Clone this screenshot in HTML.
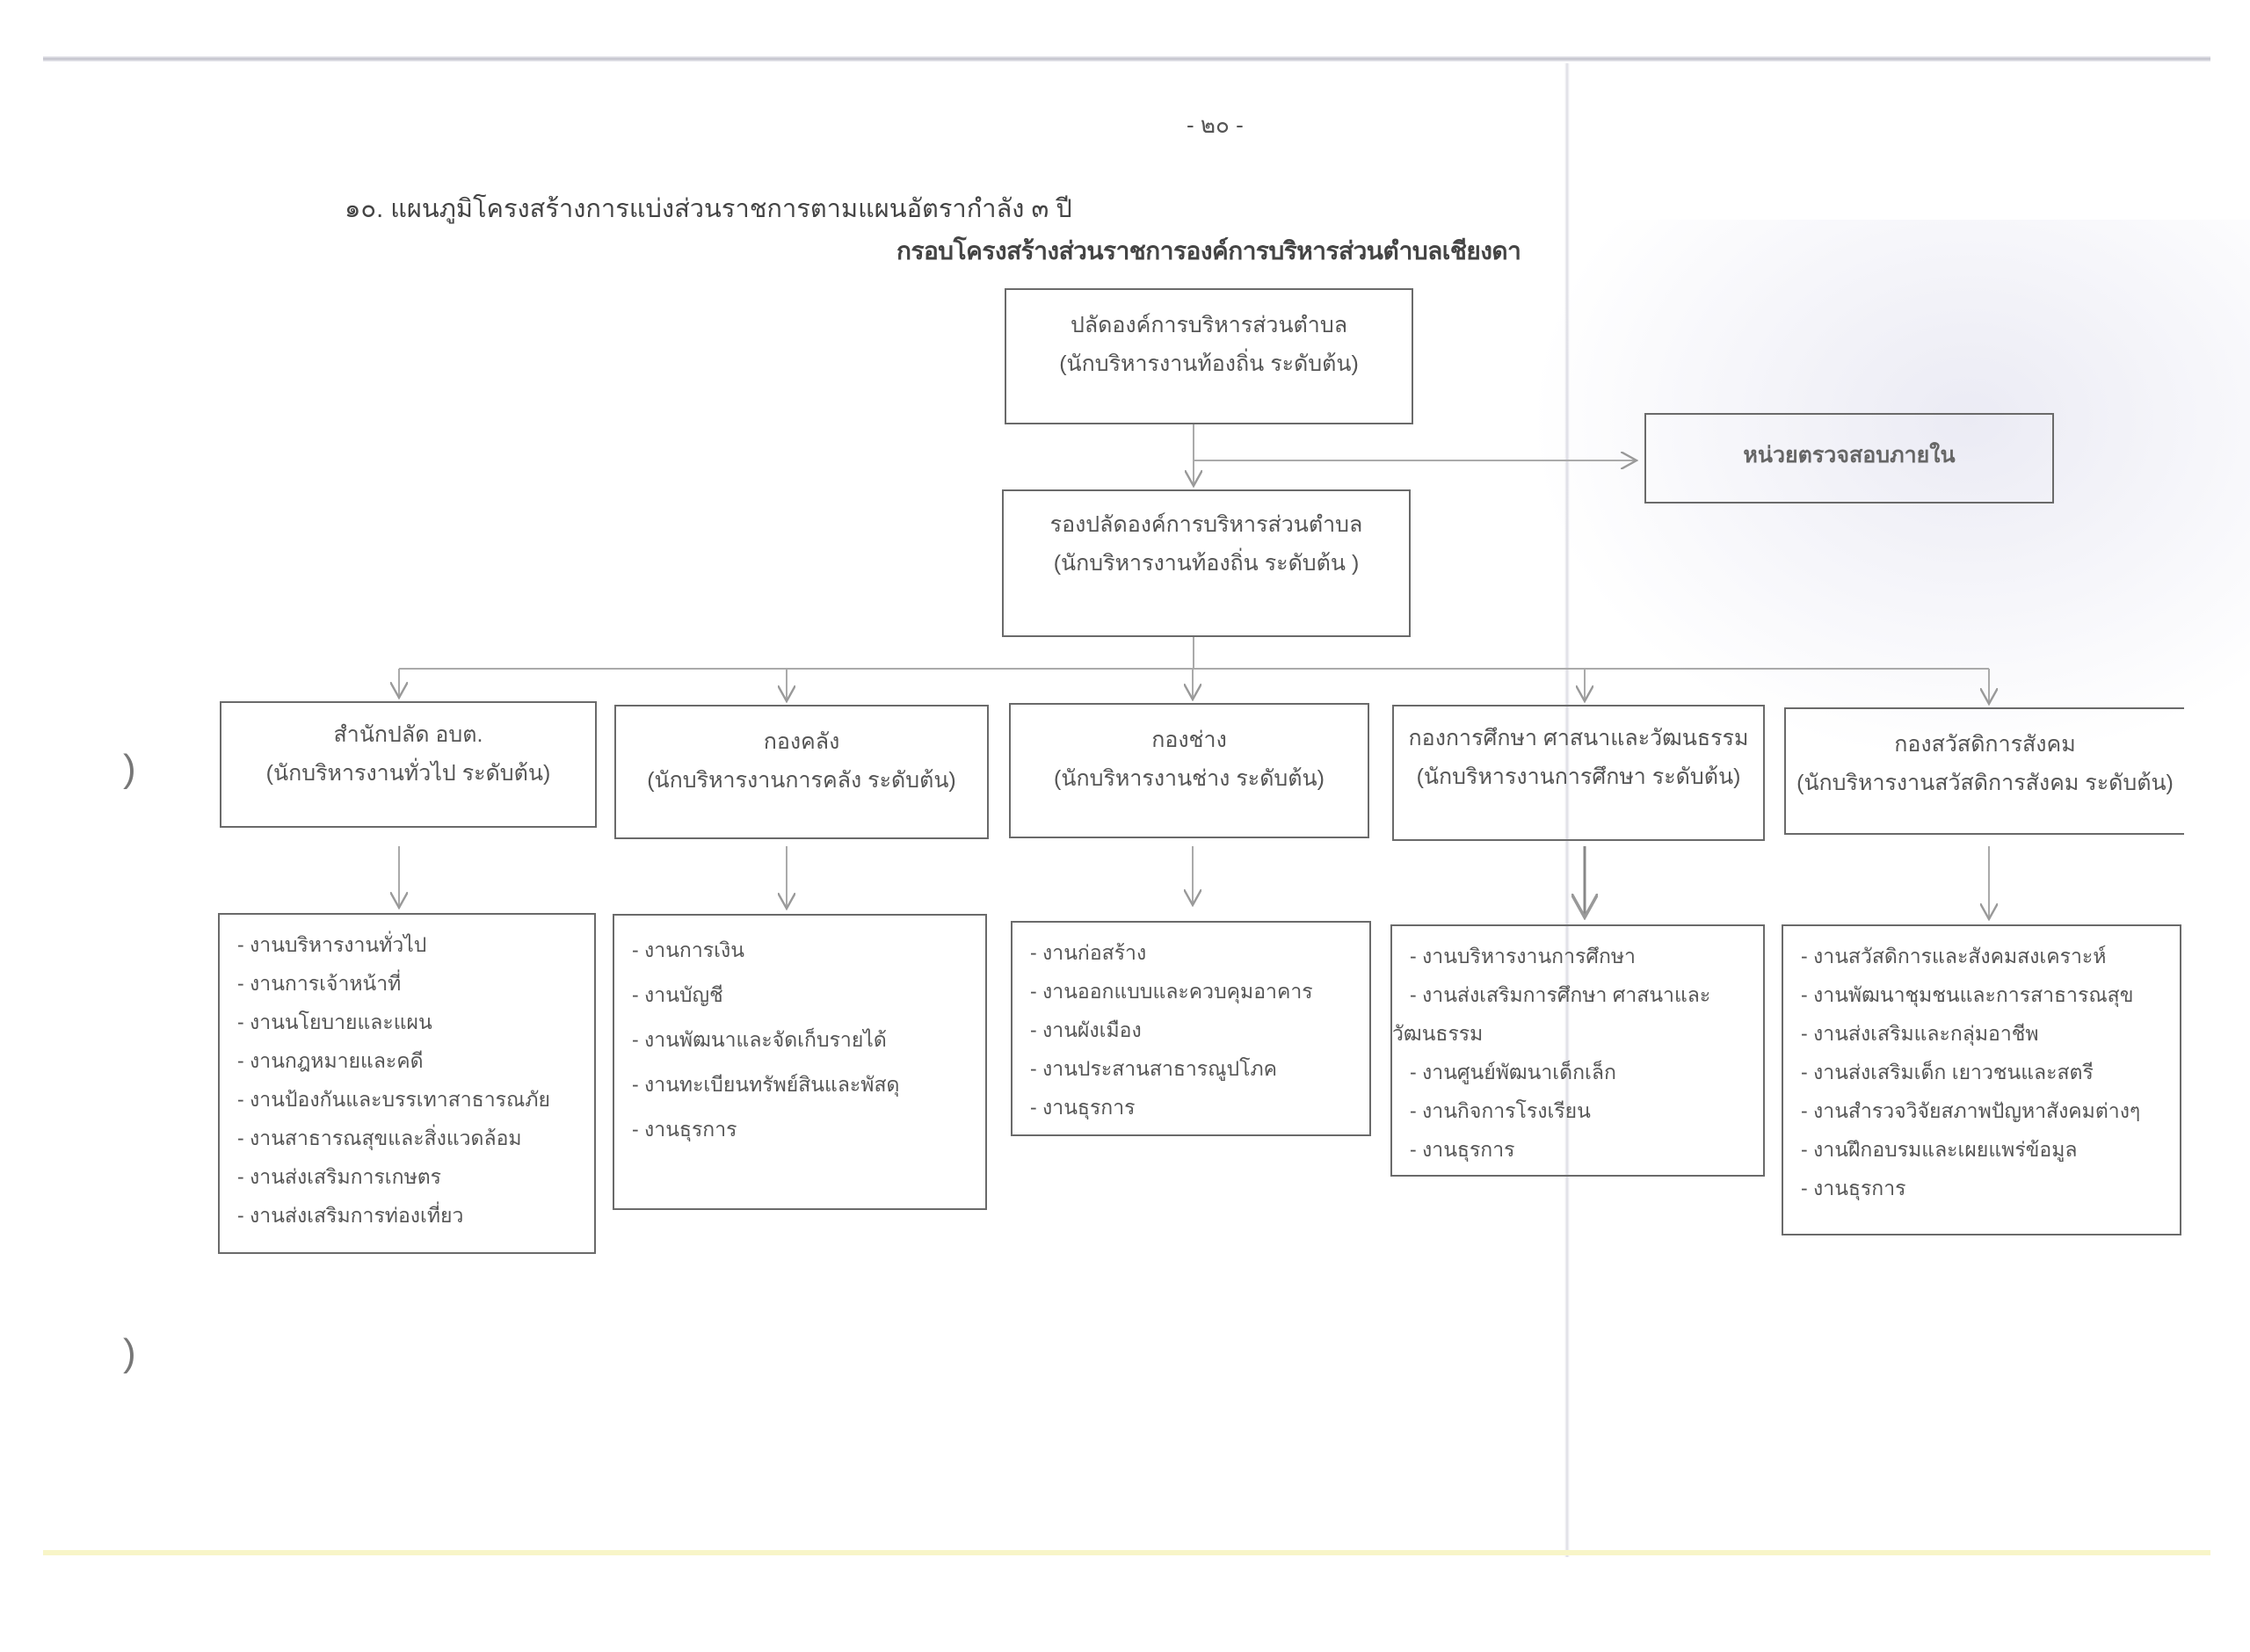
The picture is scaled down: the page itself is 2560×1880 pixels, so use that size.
<!DOCTYPE html>
<html><head><meta charset="utf-8"><style>
body{margin:0;width:2560px;height:1880px;background:#fff;position:relative;overflow:hidden;font-family:"Liberation Sans","Noto Sans CJK SC",sans-serif;color:#555}
.a{position:absolute}
.b{position:absolute;border:2px solid #6a6a6a;box-sizing:border-box}
.c{text-align:center;font-size:25px;line-height:44px;white-space:nowrap}
.l{font-size:23px;line-height:44px;padding-left:20px;white-space:nowrap}
</style></head><body>
<div class="a" style="left:49px;top:64px;width:2466px;height:6px;background:linear-gradient(#eeeef2,#c0c0ca,#eeeef2)"></div>
<div class="a" style="left:1780px;top:72px;width:6px;height:1700px;background:linear-gradient(90deg,#fff,#dcdce4,#fff)"></div>
<div class="a" style="left:1700px;top:250px;width:900px;height:650px;background:radial-gradient(ellipse at 60% 35%,rgba(205,205,228,.4),rgba(255,255,255,0) 65%)"></div>
<div class="a" style="left:49px;top:1764px;width:2466px;height:6px;background:#f8f5c8"></div>
<div class="a" style="left:1350px;top:122px;font-size:26px">- ๒๐ -</div>
<div class="a" style="left:392px;top:214px;font-size:29px;color:#444">๑๐. แผนภูมิโครงสร้างการแบ่งส่วนราชการตามแผนอัตรากำลัง ๓ ปี</div>
<div class="a" style="left:1020px;top:264px;font-size:28px;font-weight:bold;color:#444;letter-spacing:-0.5px">กรอบโครงสร้างส่วนราชการองค์การบริหารส่วนตำบลเชียงดา</div>

<svg class="a" style="left:0;top:0" width="2560" height="1880">
<defs><marker id="m" markerWidth="10" markerHeight="10" refX="9" refY="5" orient="auto"><path d="M0,0 L9,5 L0,10" fill="none" stroke="#999" stroke-width="1.2"/></marker></defs>
<g stroke="#aaa" stroke-width="2" fill="none">
<line x1="1358" y1="483" x2="1358" y2="553" marker-end="url(#m)"/>
<line x1="1358" y1="524" x2="1862" y2="524" marker-end="url(#m)"/>
<line x1="1358" y1="725" x2="1358" y2="761"/>
<line x1="454" y1="761" x2="2263" y2="761"/>
<line x1="454" y1="761" x2="454" y2="794" marker-end="url(#m)"/>
<line x1="895" y1="761" x2="895" y2="798" marker-end="url(#m)"/>
<line x1="1357" y1="761" x2="1357" y2="796" marker-end="url(#m)"/>
<line x1="1803" y1="761" x2="1803" y2="798" marker-end="url(#m)"/>
<line x1="2263" y1="761" x2="2263" y2="801" marker-end="url(#m)"/>
<line x1="454" y1="963" x2="454" y2="1033" marker-end="url(#m)"/>
<line x1="895" y1="963" x2="895" y2="1034" marker-end="url(#m)"/>
<line x1="1357" y1="963" x2="1357" y2="1030" marker-end="url(#m)"/>
<line x1="1803" y1="963" x2="1803" y2="1044" marker-end="url(#m)" stroke="#888" stroke-width="3"/>
<line x1="2263" y1="963" x2="2263" y2="1046" marker-end="url(#m)"/>
</g></svg>

<div class="b c" style="left:1143px;top:328px;width:465px;height:155px;padding-top:18px">ปลัดองค์การบริหารส่วนตำบล<br>(นักบริหารงานท้องถิ่น ระดับต้น)</div>
<div class="b c" style="left:1871px;top:470px;width:466px;height:103px;padding-top:24px;font-weight:bold;color:#666">หน่วยตรวจสอบภายใน</div>
<div class="b c" style="left:1140px;top:557px;width:465px;height:168px;padding-top:16px">รองปลัดองค์การบริหารส่วนตำบล<br>(นักบริหารงานท้องถิ่น ระดับต้น )</div>

<div class="b c" style="left:250px;top:798px;width:429px;height:144px;padding-top:14px">สำนักปลัด อบต.<br>(นักบริหารงานทั่วไป ระดับต้น)</div>
<div class="b c" style="left:699px;top:802px;width:426px;height:153px;padding-top:18px">กองคลัง<br>(นักบริหารงานการคลัง ระดับต้น)</div>
<div class="b c" style="left:1148px;top:800px;width:410px;height:154px;padding-top:18px">กองช่าง<br>(นักบริหารงานช่าง ระดับต้น)</div>
<div class="b c" style="left:1584px;top:802px;width:424px;height:155px;padding-top:14px">กองการศึกษา ศาสนาและวัฒนธรรม<br>(นักบริหารงานการศึกษา ระดับต้น)</div>
<div class="b c" style="left:2030px;top:805px;width:455px;height:145px;padding-top:18px;border-right:none">กองสวัสดิการสังคม<br>(นักบริหารงานสวัสดิการสังคม ระดับต้น)</div>

<div class="b l" style="left:248px;top:1039px;width:430px;height:388px;padding-top:12px">- งานบริหารงานทั่วไป<br>- งานการเจ้าหน้าที่<br>- งานนโยบายและแผน<br>- งานกฎหมายและคดี<br>- งานป้องกันและบรรเทาสาธารณภัย<br>- งานสาธารณสุขและสิ่งแวดล้อม<br>- งานส่งเสริมการเกษตร<br>- งานส่งเสริมการท่องเที่ยว</div>
<div class="b l" style="left:697px;top:1040px;width:426px;height:337px;padding-top:14px;line-height:51px">- งานการเงิน<br>- งานบัญชี<br>- งานพัฒนาและจัดเก็บรายได้<br>- งานทะเบียนทรัพย์สินและพัสดุ<br>- งานธุรการ</div>
<div class="b l" style="left:1150px;top:1048px;width:410px;height:245px;padding-top:12px">- งานก่อสร้าง<br>- งานออกแบบและควบคุมอาคาร<br>- งานผังเมือง<br>- งานประสานสาธารณูปโภค<br>- งานธุรการ</div>
<div class="b l" style="left:1582px;top:1052px;width:426px;height:287px;padding-top:12px">- งานบริหารงานการศึกษา<br>- งานส่งเสริมการศึกษา ศาสนาและ<br><span style="margin-left:-20px">วัฒนธรรม</span><br>- งานศูนย์พัฒนาเด็กเล็ก<br>- งานกิจการโรงเรียน<br>- งานธุรการ</div>
<div class="b l" style="left:2027px;top:1052px;width:455px;height:354px;padding-top:12px">- งานสวัสดิการและสังคมสงเคราะห์<br>- งานพัฒนาชุมชนและการสาธารณสุข<br>- งานส่งเสริมและกลุ่มอาชีพ<br>- งานส่งเสริมเด็ก เยาวชนและสตรี<br>- งานสำรวจวิจัยสภาพปัญหาสังคมต่างๆ<br>- งานฝึกอบรมและเผยแพร่ข้อมูล<br>- งานธุรการ</div>

<div class="a" style="left:140px;top:850px;font-size:44px;color:#777">)</div>
<div class="a" style="left:140px;top:1515px;font-size:44px;color:#777">)</div>
</body></html>
